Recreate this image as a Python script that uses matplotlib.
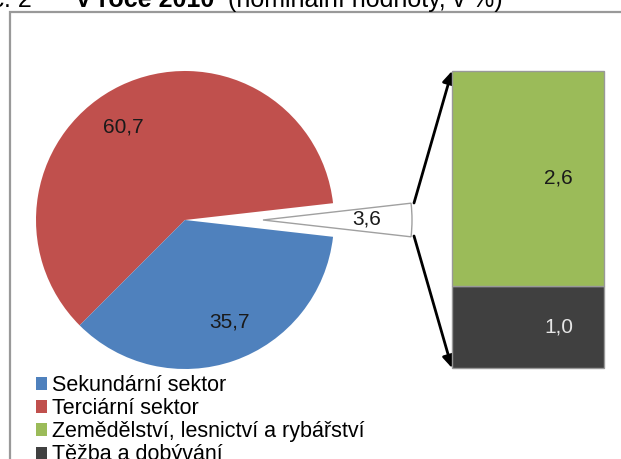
import matplotlib
matplotlib.use("Agg")
import matplotlib.pyplot as plt
from matplotlib.patches import Patch

plt.rcParams['font.family'] = ['Liberation Sans', 'DejaVu Sans']

# ---- data ----
pie_categories = ['Primární sektor', 'Terciární sektor', 'Sekundární sektor']
pie_values = [3.6, 60.7, 35.7]
bar_categories = ['Těžba a dobývání', 'Zemědělství, lesnictví a rybářství']
bar_values = [1.0, 2.6]
legend_labels = ['Sekundární sektor', 'Terciární sektor',
                 'Zemědělství, lesnictví a rybářství', 'Těžba a dobývání']

title_num = 'Graf č. 2'
title_bold = 'V roce 2010'
title_rest = '(nominální hodnoty, v %)'

# ---- style ----
C_BLUE = '#4F81BD'
C_RED = '#C0504D'
C_GREEN = '#9BBB59'
C_DARK = '#404040'
pie_colors = ['white', C_RED, C_BLUE]
bar_colors = [C_DARK, C_GREEN]

W, H = 621, 459
fmt = lambda v: f"{v:.1f}".replace('.', ',')

fig = plt.figure(figsize=(W / 100, H / 100), dpi=100)
ax = fig.add_axes([0, 0, 1, 1])

cx, cy, R = 185, H - 220, 149
start = -pie_values[0] / 100 * 360 / 2
wedges, _ = ax.pie(pie_values, colors=pie_colors, startangle=start,
                   counterclock=True, radius=R, center=(cx, cy),
                   explode=[78, 0, 0])
wedges[0].set_edgecolor('#a0a0a0')
wedges[0].set_linewidth(1.0)
for w in wedges[1:]:
    w.set_edgecolor('none')

ax.set_xlim(0, W)
ax.set_ylim(0, H)
ax.set_aspect('auto')
ax.axis('off')

# pie labels
label_pos = [(367, 219), (123, 127), (230, 322)]
for v, (x, y) in zip(pie_values, label_pos):
    ax.text(x, H - y, fmt(v), ha='center', va='center', fontsize=15, color='#1a1a1a')

# frame lines
ax.plot([10, 10, W], [0, H - 12, H - 12], color='#999999', lw=1.6,
        solid_joinstyle='miter', clip_on=False)

# arrows
ax.annotate('', xy=(452, H - 71), xytext=(414, H - 203),
            arrowprops=dict(arrowstyle='-|>', color='black', lw=2,
                            mutation_scale=18, shrinkA=0, shrinkB=0))
ax.annotate('', xy=(452, H - 368), xytext=(414, H - 236),
            arrowprops=dict(arrowstyle='-|>', color='black', lw=2,
                            mutation_scale=18, shrinkA=0, shrinkB=0))

# title (cut off at top, as in the reference)
ax.text(32, H - 7, title_num, ha='right', va='baseline', fontsize=18)
ax.text(75, H - 7, title_bold, ha='left', va='baseline', fontsize=18, fontweight='bold')
ax.text(228, H - 7, title_rest, ha='left', va='baseline', fontsize=18)

# stacked bar
bax = fig.add_axes([452 / W, (H - 368) / H, 152 / W, 297 / H])
bottom = 0
for v, c in zip(bar_values, bar_colors):
    bax.bar(0, v, width=1, bottom=bottom, color=c, edgecolor='#999999',
            linewidth=1, clip_on=False)
    tcol = '#e6e6e6' if c == C_DARK else '#1a1a1a'
    bax.text(0.2, bottom + v / 2, fmt(v), ha='center', va='center',
             fontsize=15, color=tcol)
    bottom += v
bax.set_xlim(-0.5, 0.5)
bax.set_ylim(0, sum(bar_values))
bax.axis('off')

# legend
color_map = {'Sekundární sektor': C_BLUE, 'Terciární sektor': C_RED,
             'Zemědělství, lesnictví a rybářství': C_GREEN,
             'Těžba a dobývání': C_DARK}
handles = [Patch(facecolor=color_map[l], edgecolor='none') for l in legend_labels]
fig.legend(handles, legend_labels, loc='upper left',
           bbox_to_anchor=(36 / W, 1 - 375 / H), frameon=False,
           fontsize=15.5, handlelength=0.52, handleheight=0.52,
           handletextpad=0.2, labelspacing=0.1, borderpad=0,
           borderaxespad=0)

fig.savefig('out.png', dpi=100)
